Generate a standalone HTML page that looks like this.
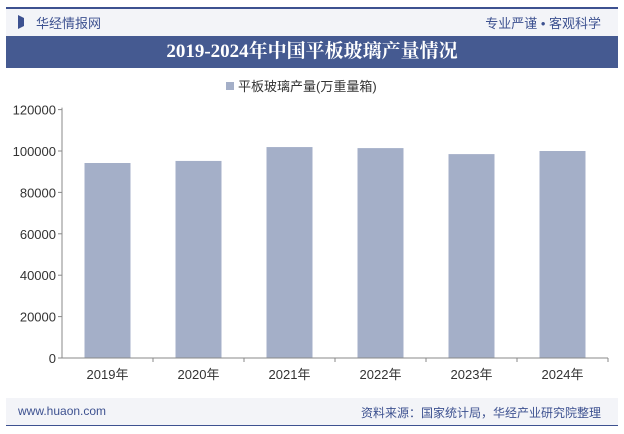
<!DOCTYPE html>
<html><head><meta charset="utf-8"><style>
body{margin:0;width:624px;height:434px;background:#fff;font-family:"Liberation Sans","Noto Sans CJK SC",sans-serif;position:relative;overflow:hidden}
.abs{position:absolute}
</style></head><body>
<div class="abs" style="left:6px;top:7px;width:612px;height:2px;background:#3d5190"></div>
<div class="abs" style="left:6px;top:9px;width:612px;height:27px;background:#f3f4f8"></div>
<div class="abs" style="left:18px;top:15px;width:0;height:0;border-left:6px solid #3d5190;border-top:3px solid transparent;border-bottom:3px solid transparent;height:8px"></div>
<div class="abs" style="left:36px;top:13px;font-size:13px;color:#3d5190">华经情报网</div>
<div class="abs" style="right:23px;top:13px;font-size:13px;color:#3d5190">专业严谨 • 客观科学</div>
<div class="abs" style="left:6px;top:36px;width:612px;height:32px;background:#455a91;color:#fff;font:bold 19px 'Liberation Serif','Noto Serif CJK SC',serif;text-align:center;line-height:32px">2019-2024年中国平板玻璃产量情况</div>
<div class="abs" style="left:6px;top:398px;width:612px;height:27px;background:#f3f4f8"></div>
<div class="abs" style="left:6px;top:425px;width:612px;height:1px;background:#3d5190"></div>
<div class="abs" style="left:18px;top:404px;font-size:12px;color:#3d5190">www.huaon.com</div>
<div class="abs" style="right:23px;top:404px;font-size:12px;color:#3d5190">资料来源：国家统计局，华经产业研究院整理</div>
<svg class="abs" style="left:0;top:0" width="624" height="434">
<rect x="226" y="82" width="8" height="8" fill="#a4afc8"/>
<text x="238" y="91" font-size="13" fill="#333">平板玻璃产量(万重量箱)</text>
<g id="g"></g>
</svg>
<script>
const categories=["2019年","2020年","2021年","2022年","2023年","2024年"];
const values=[94200,95200,101900,101400,98500,100000];
const ticks=[0,20000,40000,60000,80000,100000,120000];
const x0=62,x1=608,y0=358,ppu=207/100000;
const y=v=>y0-v*ppu;
const bw=(x1-x0)/categories.length;
const g=document.getElementById('g');
const ns='http://www.w3.org/2000/svg';
function mk(t,a){const e=document.createElementNS(ns,t);for(const k in a)e.setAttribute(k,a[k]);g.appendChild(e);return e;}
ticks.forEach(t=>{
 const tl=mk('text',{x:x0-6,y:y(t)+5,'text-anchor':'end','font-size':13,fill:'#333'});tl.textContent=t;
 
 
 const tk=mk('line',{x1:x0-4,x2:x0,y1:y(t),y2:y(t),stroke:'#888'});
 
 
});
categories.forEach((c,i)=>{
 const cx=x0+bw*(i+0.5);
 const r=mk('rect',{x:cx-23,y:y(values[i]),width:46,height:values[i]*ppu,fill:'#a4afc8'});
 
 
 const l=mk('text',{x:cx,y:y0+21,'text-anchor':'middle','font-size':13,fill:'#333'});l.textContent=c;
 
 
 const tk=mk('line',{x1:x0+bw*(i+1),x2:x0+bw*(i+1),y1:y0,y2:y0+4,stroke:'#888'});
 
 
});
const ya=mk('line',{x1:x0,x2:x0,y1:y(120000)-2,y2:y0,stroke:'#888'});


const xa=mk('line',{x1:x0,x2:x1,y1:y0,y2:y0,stroke:'#888'});


</script>
</body></html>
